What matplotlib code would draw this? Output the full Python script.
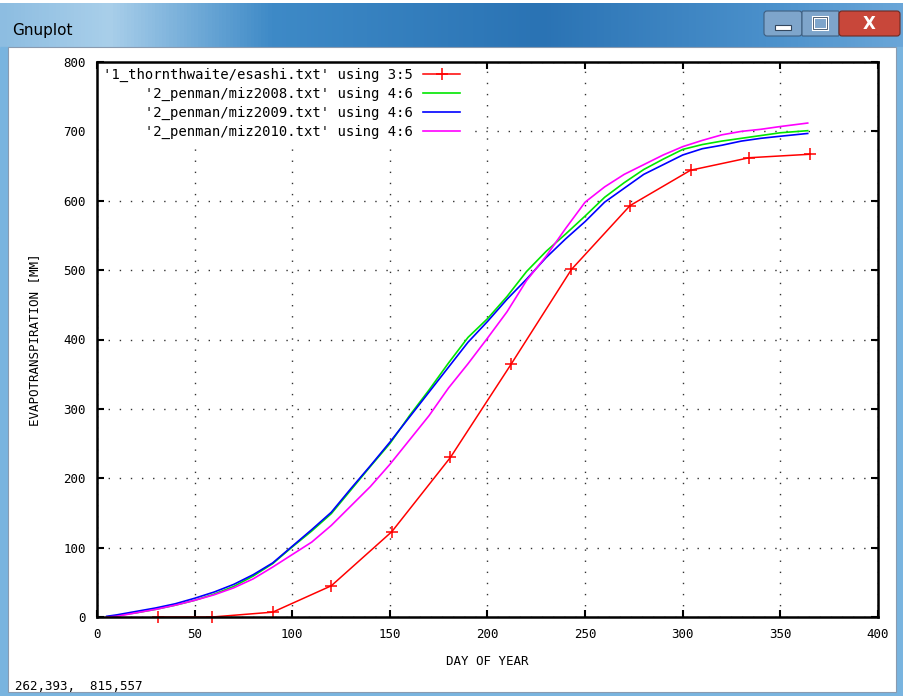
import numpy as np
import matplotlib
matplotlib.use("Agg")
import matplotlib.pyplot as plt
from matplotlib.patches import Rectangle, FancyBboxPatch
from matplotlib.colors import LinearSegmentedColormap

W, H = 904, 696

# 1_thornthwaite/esashi.txt, monthly cumulative (using 3:5)
esashi_day = [31, 59, 90, 120, 151, 181, 212, 243, 273, 304, 334, 365]
esashi_et = [0, 0, 7, 45, 123, 230, 364, 501, 593, 644, 662, 667]

# 2_penman/miz20xx.txt, daily cumulative (using 4:6), read every ~10 days
miz_day = [5, 10, 20, 30, 40, 50, 60, 70, 80, 90, 100, 110, 120, 130, 140, 150,
           160, 170, 180, 190, 200, 210, 220, 230, 240, 250, 260, 270, 280, 290,
           300, 310, 320, 330, 340, 350, 364]
miz2008_et = [0, 2, 6, 11, 17, 24, 33, 44, 59, 77, 101, 124, 149, 183, 217, 250,
              290, 327, 366, 403, 430, 462, 498, 527, 552, 578, 605, 626, 645, 660,
              674, 681, 686, 690, 694, 698, 701]
miz2009_et = [1, 3, 8, 13, 19, 27, 36, 47, 61, 78, 102, 126, 151, 185, 218, 252,
              288, 324, 360, 396, 426, 458, 487, 518, 545, 570, 598, 618, 638, 652,
              666, 675, 680, 686, 690, 693, 697]
miz2010_et = [0, 1, 6, 11, 17, 24, 32, 42, 55, 72, 90, 108, 132, 160, 188, 220,
              255, 290, 330, 365, 402, 440, 485, 520, 560, 598, 620, 638, 652, 666,
              678, 687, 695, 700, 703, 707, 712]

labels = [
    "'1_thornthwaite/esashi.txt' using 3:5",
    "'2_penman/miz2008.txt' using 4:6",
    "'2_penman/miz2009.txt' using 4:6",
    "'2_penman/miz2010.txt' using 4:6",
]

MONO = ["DejaVu Sans Mono"]


def draw_window(fig):
    # Windows 7 style frame around the gnuplot canvas
    win = fig.add_axes([0, 0, 1, 1], zorder=-5)
    win.set_xlim(0, W)
    win.set_ylim(H, 0)
    win.axis("off")

    cmap = LinearSegmentedColormap.from_list(
        "aero",
        [(0.0, "#8dbde1"), (0.12, "#a9cfea"), (0.3, "#3e8ac7"),
         (0.6, "#2a73b4"), (0.85, "#4a90cb"), (1.0, "#6aa6d8")],
    )
    grad = np.linspace(0, 1, 256)[np.newaxis, :]
    win.imshow(grad, extent=(0, W, 47, 3), aspect="auto", cmap=cmap, zorder=0)

    win.add_patch(Rectangle((0, 47), 8, H - 47, color="#79b4df", zorder=1))
    win.add_patch(Rectangle((W - 8, 47), 8, H - 47, color="#79b4df", zorder=1))
    win.add_patch(Rectangle((0, H - 4), W, 4, color="#79b4df", zorder=1))
    win.add_patch(Rectangle((8, 47), W - 16, H - 51, facecolor="white",
                            edgecolor="#8a9bb0", lw=0.8, zorder=2))

    win.text(12, 31, "Gnuplot", fontsize=11, color="black", va="center",
             ha="left", family="DejaVu Sans", zorder=3)

    # caption buttons
    win.add_patch(FancyBboxPatch((764, 11), 38, 25, boxstyle="round,pad=0,rounding_size=3",
                                 facecolor="#7ea5cb", edgecolor="#3f5f80", lw=0.8, zorder=3))
    win.add_patch(FancyBboxPatch((802, 11), 37, 25, boxstyle="round,pad=0,rounding_size=1",
                                 facecolor="#7ea5cb", edgecolor="#3f5f80", lw=0.8, zorder=3))
    win.add_patch(FancyBboxPatch((839, 11), 61, 25, boxstyle="round,pad=0,rounding_size=3",
                                 facecolor="#c8473a", edgecolor="#6d2a22", lw=0.8, zorder=3))
    win.add_patch(Rectangle((775, 25), 16, 5, facecolor="white", edgecolor="#33475e",
                            lw=0.8, zorder=4))
    win.add_patch(Rectangle((813, 17), 14, 12, facecolor="none", edgecolor="white",
                            lw=2.2, zorder=4))
    win.add_patch(Rectangle((813, 17), 14, 12, facecolor="none", edgecolor="#33475e",
                            lw=0.6, zorder=4))
    win.text(869, 24, "X", fontsize=12, fontweight="bold", color="white",
             ha="center", va="center", family="DejaVu Sans", zorder=4)

    # status bar readout
    win.text(15, 686, "262,393,  815,557", fontsize=9, family=MONO,
             ha="left", va="center", color="black", zorder=3)


def main():
    fig = plt.figure(figsize=(W / 100, H / 100), dpi=100)
    draw_window(fig)

    ax = fig.add_axes([97 / W, (H - 617) / H, (878 - 97) / W, (617 - 62) / H])

    ax.plot(esashi_day, esashi_et, color="#ff0000", lw=1.1, marker="+",
            markersize=8, markeredgewidth=1.1, label=labels[0], clip_on=False)
    ax.plot(miz_day, miz2008_et, color="#00e600", lw=1.2, label=labels[1])
    ax.plot(miz_day, miz2009_et, color="#0000ff", lw=1.2, label=labels[2])
    ax.plot(miz_day, miz2010_et, color="#ff00ff", lw=1.2, label=labels[3])

    ax.set_xlim(0, 400)
    ax.set_ylim(0, 800)
    ax.set_xticks(np.arange(0, 401, 50))
    ax.set_yticks(np.arange(0, 801, 100))
    ax.grid(True, color="#333333", lw=1.0, linestyle=(0, (1, 7)))
    ax.set_axisbelow(True)

    ax.tick_params(direction="in", length=5, width=1.5, top=True, right=True,
                   labelsize=9, pad=8)
    for lab in ax.get_xticklabels() + ax.get_yticklabels():
        lab.set_family(MONO)
    for spine in ax.spines.values():
        spine.set_linewidth(1.8)
        spine.set_zorder(6)

    ax.set_xlabel("DAY OF YEAR", family=MONO, fontsize=9, labelpad=10)
    ax.set_ylabel("EVAPOTRANSPIRATION [MM]", family=MONO, fontsize=9, labelpad=16)

    width = max(len(s) for s in labels)
    handles, labs = ax.get_legend_handles_labels()
    leg = ax.legend(handles, [s.rjust(width) for s in labs], loc="upper left",
                    bbox_to_anchor=(0, 1), markerfirst=False, frameon=True,
                    prop={"family": MONO, "size": 10}, handlelength=2.7,
                    handletextpad=0.7, labelspacing=0.34, borderpad=0.45,
                    borderaxespad=0.0, fancybox=False)
    leg.get_frame().set_facecolor("white")
    leg.get_frame().set_edgecolor("none")
    leg.get_frame().set_alpha(1.0)
    leg.set_zorder(5)

    fig.savefig("out.png", dpi=100)
    plt.close(fig)


if __name__ == "__main__":
    main()
